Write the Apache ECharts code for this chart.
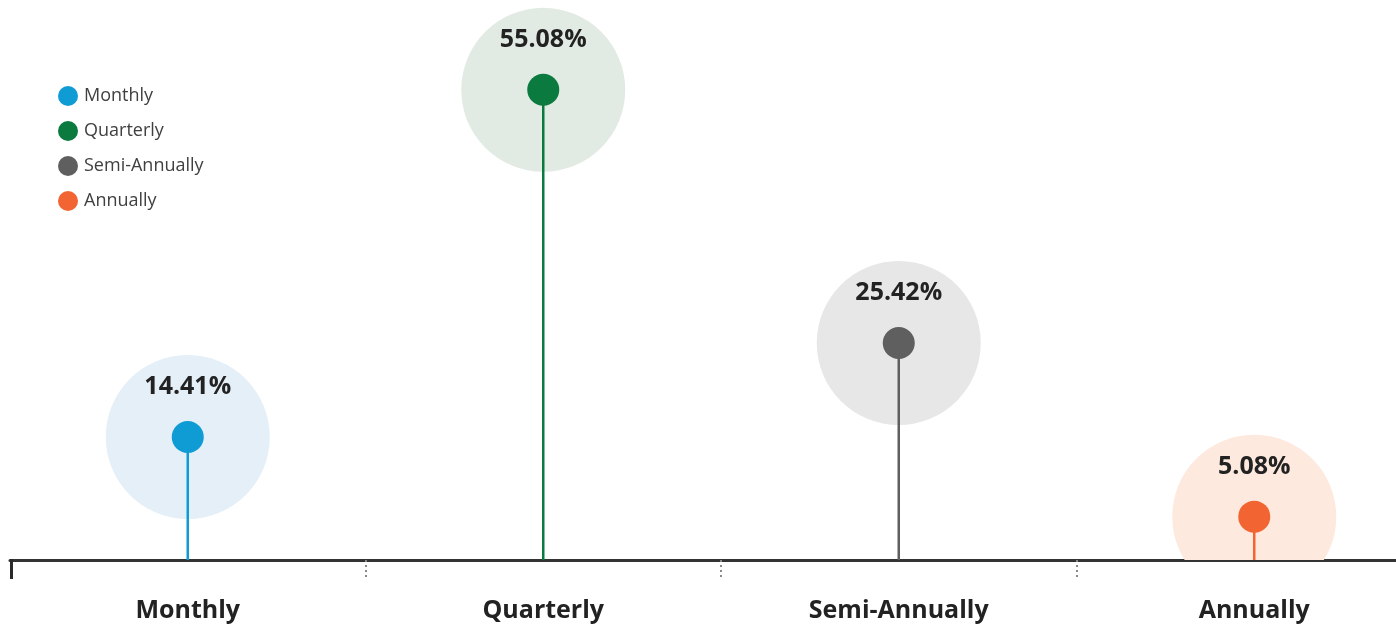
<!DOCTYPE html>
<html>
<head>
<meta charset="utf-8">
<script src="https://cdn.jsdelivr.net/npm/echarts@6/dist/echarts.min.js"></script>
<style>
  html, body { margin: 0; padding: 0; background: #ffffff; }
  #chart { width: 1396px; height: 626px; }
</style>
</head>
<body>
<div id="chart"></div>
<script>
// Payment frequency shares (%)
const categories = ['Monthly', 'Quarterly', 'Semi-Annually', 'Annually'];
const shares = [14.41, 55.08, 25.42, 5.08];

// Palette: marker colour and the soft halo behind each marker
const dotColors = ['#0f9bd3', '#0a7a3e', '#5f5f60', '#f26533'];
const haloColors = ['#e4eff8', '#e2ebe3', '#e7e7e8', '#fde9dd'];

const FONT = '"Open Sans", "Noto Sans", sans-serif';
const HALO_R = 82;
const DOT_R = 16;

const chart = echarts.init(document.getElementById('chart'), null, { renderer: 'canvas' });

function lollipop(idx) {
  return function (params, api) {
    const top = api.coord([api.value(0), api.value(1)]);
    const base = api.coord([api.value(0), 0]);
    return {
      type: 'group',
      children: [
        { type: 'circle', shape: { cx: top[0], cy: top[1], r: HALO_R }, style: { fill: haloColors[idx] } },
        { type: 'line', shape: { x1: top[0], y1: top[1], x2: base[0], y2: base[1] },
          style: { stroke: dotColors[idx], lineWidth: 2.5 } },
        { type: 'circle', shape: { cx: top[0], cy: top[1], r: DOT_R }, style: { fill: dotColors[idx] } },
        { type: 'text', style: {
            text: api.value(1).toFixed(2) + '%', x: top[0], y: top[1] - 50,
            align: 'center', verticalAlign: 'middle',
            font: 'bold 25px ' + FONT, fill: '#222222' } }
      ]
    };
  };
}

const series = categories.map((name, i) => ({
  name: name,
  type: 'custom',
  clip: true,
  itemStyle: { color: dotColors[i] },
  renderItem: lollipop(i),
  data: [[i, shares[i]]]
}));

chart.setOption({
  animation: false,
  backgroundColor: '#ffffff',
  // the last band runs past the right edge of the canvas
  grid: { left: 10, top: 0, width: 1422, height: 560, outerBoundsMode: 'none', containLabel: false },
  legend: {
    orient: 'vertical', left: 53, top: 81, itemGap: 15,
    itemWidth: 20, itemHeight: 20, icon: 'circle',
    data: categories,
    textStyle: { fontFamily: FONT, fontSize: 18, color: '#404040', padding: [0, 0, 0, 1] }
  },
  xAxis: {
    type: 'category',
    data: categories,
    boundaryGap: true,
    axisLine: { lineStyle: { color: '#333333', width: 3 } },
    // dotted separators between categories; the left end gets a solid tick below
    axisTick: {
      show: true, length: 18,
      interval: function (index) { return index !== 0; },
      lineStyle: { color: '#8a8a8a', width: 2, type: [2, 3] }
    },
    axisLabel: { margin: 38, fontFamily: FONT, fontSize: 25, fontWeight: 'bold', color: '#222222' }
  },
  yAxis: { type: 'value', min: 0, max: 65.6, show: false, splitLine: { show: false } },
  series: series,
  graphic: [
    { type: 'rect', shape: { x: 10, y: 559, width: 3, height: 20 }, style: { fill: '#2a2a2a' }, z: 100 }
  ]
});
</script>
</body>
</html>
